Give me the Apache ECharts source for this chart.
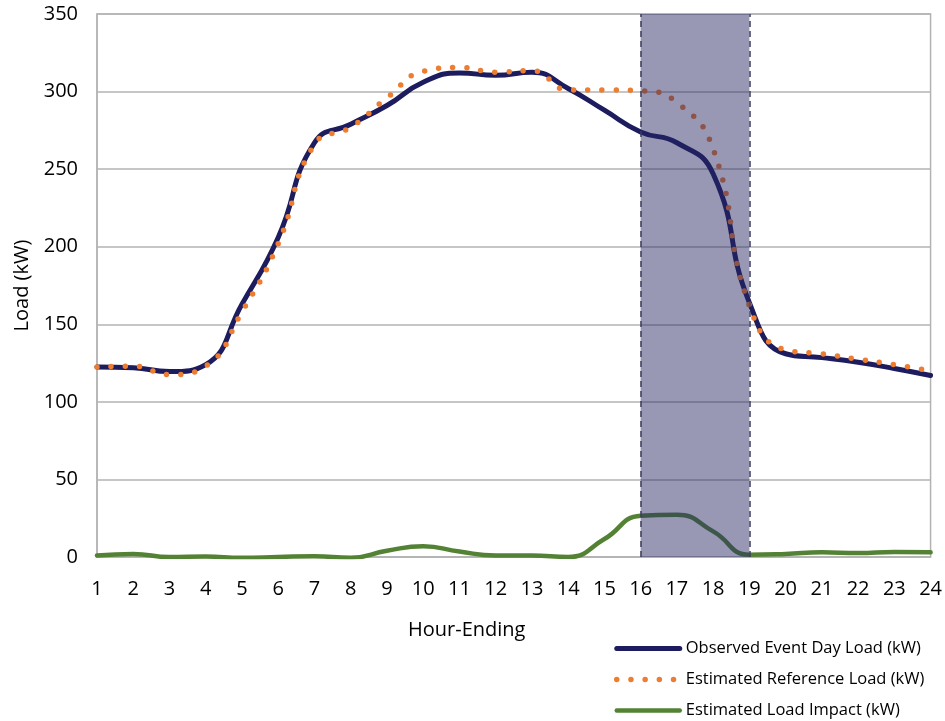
<!DOCTYPE html>
<html>
<head>
<meta charset="utf-8">
<script src="https://cdn.jsdelivr.net/npm/echarts@6/dist/echarts.min.js"></script>
<style>
  html, body { margin: 0; padding: 0; background: #fff; }
  #chart { width: 945px; height: 721px; }
</style>
</head>
<body>
<div id="chart"></div>
<script>
// Hour-ending categories
const hours = ['1','2','3','4','5','6','7','8','9','10','11','12','13','14','15','16','17','18','19','20','21','22','23','24'];

// Observed load on the event day (kW)
const observedLoad = [122.5, 122, 119.5, 124, 163, 206, 267, 279, 291, 306, 312, 310.5,
                      312.5, 302, 288, 274, 267, 247, 164, 131, 128.5, 125.5, 121.5, 117];

// Estimated reference load (kW)
const referenceLoad = [122.5, 123, 117.5, 123, 158, 202, 266, 277, 296, 313, 315.5, 312.5,
                       313.5, 301, 301, 300.5, 293, 263, 162, 133.5, 131, 127.5, 124, 120];

// Estimated load impact (kW)
const loadImpact = [1, 2, 0, 0.3, -0.5, 0, 0.5, -0.5, 4, 7, 3.5, 1,
                    1, 0, 11.6, 26.6, 27.3, 16.5, 1.5, 2, 3, 2.5, 3.2, 3];

// Event window (hour-ending)
const eventStart = '16';
const eventEnd = '19';

// Y axis range
const yMin = 0, yMax = 350, yStep = 50;

const FONT = '"Open Sans", "Liberation Sans", sans-serif';
const GRID_GRAY = '#b3b3b3';
const SMOOTH = 0.5;

const chart = echarts.init(document.getElementById('chart'), null, { renderer: 'canvas' });

chart.setOption({
  animation: false,
  backgroundColor: '#ffffff',
  textStyle: { fontFamily: FONT, color: '#000' },
  grid: {
    left: 97, right: 13, top: 14, bottom: 164,
    show: true, borderColor: GRID_GRAY, borderWidth: 1.5, backgroundColor: 'transparent'
  },
  legend: {
    orient: 'vertical',
    left: 614, top: 640,
    padding: 0,
    itemWidth: 63, itemHeight: 14, itemGap: 14,
    lineStyle: { width: 'inherit' },
    itemStyle: { opacity: 0 },
    data: ['Observed Event Day Load (kW)', 'Estimated Reference Load (kW)', 'Estimated Load Impact (kW)'],
    textStyle: { fontFamily: FONT, fontSize: 16.5, color: '#000', padding: [0, 0, 0, 1] }
  },
  xAxis: {
    type: 'category',
    data: hours,
    boundaryGap: false,
    axisLine: { lineStyle: { color: GRID_GRAY, width: 1.5 } },
    axisTick: { show: false },
    axisLabel: { fontFamily: FONT, fontSize: 20, color: '#000', margin: 22 },
    splitLine: { show: false }
  },
  yAxis: {
    type: 'value',
    min: yMin, max: yMax, interval: yStep,
    name: 'Load (kW)',
    nameLocation: 'middle',
    nameGap: 64,
    nameTextStyle: { fontFamily: FONT, fontSize: 20, color: '#000' },
    axisLine: { show: true, lineStyle: { color: GRID_GRAY, width: 1.5 } },
    axisTick: { show: false },
    axisLabel: { fontFamily: FONT, fontSize: 20, color: '#000', margin: 19 },
    splitLine: { lineStyle: { color: GRID_GRAY, width: 1.5 } }
  },
  graphic: [{
    type: 'text',
    left: 408, top: 620,
    style: { text: 'Hour-Ending', font: '20px ' + FONT, fill: '#000' }
  }],
  series: [
    {
      name: 'Observed Event Day Load (kW)',
      type: 'line',
      data: observedLoad,
      smooth: SMOOTH,
      symbol: 'none',
      z: 3,
      lineStyle: { color: '#1c1c5e', width: 5, cap: 'round' },
      itemStyle: { color: '#1c1c5e' }
    },
    {
      name: 'Estimated Reference Load (kW)',
      type: 'line',
      data: referenceLoad,
      smooth: SMOOTH,
      symbol: 'none',
      z: 4,
      lineStyle: { color: '#ed7d31', width: 5.5, type: [0, 14.2], cap: 'round' },
      itemStyle: { color: '#ed7d31' }
    },
    {
      name: 'Estimated Load Impact (kW)',
      type: 'line',
      data: loadImpact,
      smooth: SMOOTH,
      symbol: 'none',
      z: 3,
      lineStyle: { color: '#548235', width: 4.5, cap: 'round' },
      itemStyle: { color: '#548235' }
    },
    {
      // Shaded event window, on its own layer above the load curves
      name: 'Event Window',
      type: 'line',
      data: [],
      zlevel: 1,
      z: 10,
      silent: true,
      markArea: {
        zlevel: 1,
        z: 10,
        silent: true,
        itemStyle: { color: 'rgba(40, 40, 100, 0.48)' },
        data: [[{ xAxis: eventStart }, { xAxis: eventEnd }]]
      },
      markLine: {
        zlevel: 1,
        z: 11,
        silent: true,
        symbol: 'none',
        label: { show: false },
        lineStyle: { color: '#3c3c5c', width: 1.5, type: [6, 4] },
        data: [{ xAxis: eventStart }, { xAxis: eventEnd }]
      }
    }
  ]
});
</script>
</body>
</html>
